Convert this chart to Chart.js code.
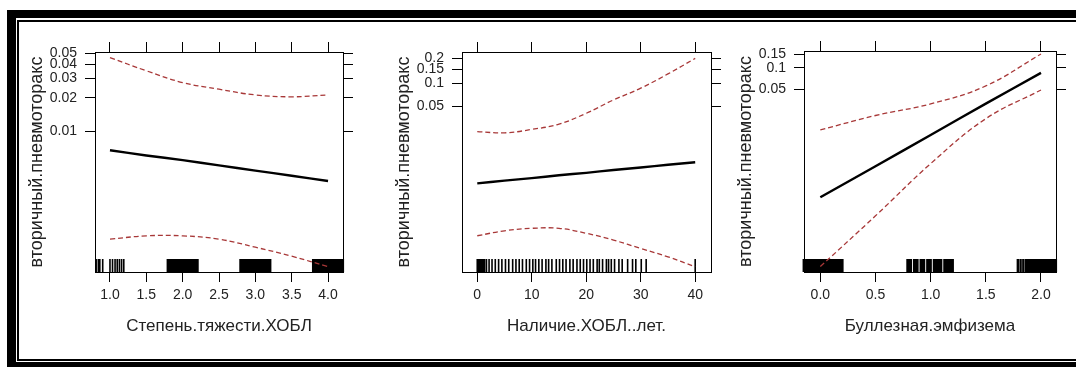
<!DOCTYPE html>
<html>
<head>
<meta charset="utf-8">
<script src="https://cdn.jsdelivr.net/npm/chart.js@4.4.1/dist/chart.umd.min.js"></script>
<style>
  body { margin: 0; width: 1076px; height: 367px; background: #fff; position: relative; overflow: hidden; }
  canvas { position: absolute; }
  .bar { position: absolute; background: #000; }
</style>
</head>
<body>
<div class="bar" style="left:7px;top:10px;width:1069px;height:8px"></div>
<div class="bar" style="left:7px;top:10px;width:9px;height:357px"></div>
<div class="bar" style="left:7px;top:362px;width:1069px;height:5px"></div>
<div class="bar" style="left:17px;top:20px;width:1059px;height:2px"></div>
<div class="bar" style="left:17px;top:20px;width:2px;height:341px"></div>
<div class="bar" style="left:17px;top:359px;width:1059px;height:2px"></div>
<canvas id="c1"></canvas>
<canvas id="c2"></canvas>
<canvas id="c3"></canvas>
<script>
// y values are on the logit (link) scale, y tick labels are probabilities
const yTitle = 'вторичный.пневмоторакс';

// Panel 1 - Степень.тяжести.ХОБЛ
const severityX = [1, 1.5, 2, 2.5, 3, 3.5, 4];
const severityFit = [-5.00, -5.11, -5.21, -5.32, -5.43, -5.54, -5.65];
const severityUpper = [-3.04, -3.32, -3.57, -3.71, -3.83, -3.87, -3.83];
const severityLower = [-6.88, -6.81, -6.81, -6.88, -7.05, -7.24, -7.46];
const severityRug = [0.81, 0.84, 0.86, 0.90, 1.00, 1.035, 1.07, 1.10, 1.13, 1.16, 1.19,
  1.79, 1.81, 1.83, 1.85, 1.87, 1.89, 1.91, 1.93, 1.95, 1.97, 1.99, 2.01, 2.03, 2.05, 2.07, 2.09, 2.11, 2.13, 2.15, 2.17, 2.19, 2.21,
  2.79, 2.81, 2.83, 2.85, 2.87, 2.89, 2.91, 2.93, 2.95, 2.97, 2.99, 3.01, 3.03, 3.05, 3.07, 3.09, 3.11, 3.13, 3.15, 3.17, 3.19, 3.21,
  3.79, 3.81, 3.83, 3.85, 3.87, 3.89, 3.91, 3.93, 3.95, 3.97, 3.99, 4.01, 4.03, 4.05, 4.07, 4.09, 4.11, 4.13, 4.15, 4.17, 4.19, 4.21];
const severityTicks = [1, 1.5, 2, 2.5, 3, 3.5, 4];
const severityTickLabels = ['1.0', '1.5', '2.0', '2.5', '3.0', '3.5', '4.0'];
const severityProbs = [0.05, 0.04, 0.03, 0.02, 0.01];

// Panel 2 - Наличие.ХОБЛ..лет.
const yearsX = [0, 5, 10, 15, 20, 25, 30, 35, 40];
const yearsFit = [-5.42, -5.33, -5.25, -5.16, -5.08, -4.99, -4.91, -4.82, -4.74];
const yearsUpper = [-3.75, -3.79, -3.68, -3.51, -3.16, -2.73, -2.35, -1.89, -1.39];
const yearsLower = [-7.11, -6.95, -6.87, -6.87, -7.03, -7.25, -7.52, -7.79, -8.11];
const yearsRug = [0, 0.18, 0.36, 0.54, 0.72, 0.9, 1.08, 1.33, 1.69, 2.17, 2.71, 3.31, 3.92, 4.52, 5.18, 5.78,
  6.5, 7.1, 7.7, 8.3, 9.0, 9.6, 10.2, 10.7, 11.3, 11.9, 12.6, 13.1, 13.7, 14.5, 15.1, 15.7, 16.3, 17.0,
  17.6, 18.3, 18.9, 19.5, 20.1, 20.7, 21.3, 22.0, 22.4, 23.0, 23.7, 24.1, 24.6, 25.2, 26.0, 26.6, 27.6,
  28.5, 29.1, 30.1, 31.0, 40];
const yearsTicks = [0, 10, 20, 30, 40];
const yearsTickLabels = ['0', '10', '20', '30', '40'];
const yearsProbs = [0.2, 0.15, 0.1, 0.05];

// Panel 3 - Буллезная.эмфизема
const bullaeX = [0, 0.5, 1, 1.5, 2];
const bullaeFit = [-6.66, -5.59, -4.51, -3.43, -2.37];
const bullaeUpper = [-4.34, -3.84, -3.44, -2.82, -1.72];
const bullaeLower = [-9.05, -7.30, -5.50, -3.95, -2.96];
const bullaeRug = [-0.15, -0.13, -0.12, -0.10, -0.08, -0.07, -0.05, -0.04, -0.02, -0.01, 0.01, 0.03,
  0.04, 0.06, 0.07, 0.09, 0.11, 0.12, 0.14, 0.15, 0.17, 0.19, 0.20,
  0.79, 0.805, 0.82, 0.85, 0.865, 0.88, 0.91, 0.925, 0.94, 0.97, 0.985, 1.0, 1.03, 1.045,
  1.065, 1.08, 1.095, 1.125, 1.14, 1.155, 1.17, 1.185, 1.2,
  1.79, 1.815, 1.84, 1.865, 1.88, 1.895, 1.91, 1.925, 1.94, 1.955, 1.97, 1.985, 2.0, 2.015,
  2.03, 2.045, 2.06, 2.075, 2.09, 2.105, 2.12, 2.135];
const bullaeTicks = [0, 0.5, 1, 1.5, 2];
const bullaeTickLabels = ['0.0', '0.5', '1.0', '1.5', '2.0'];
const bullaeProbs = [0.15, 0.1, 0.05];

const AXIS_L = 80, AXIS_R = 20, AXIS_T = 20, AXIS_B = 75;
const narrow = "'Liberation Sans Narrow', 'Arial Narrow', 'Liberation Sans', sans-serif";
const dashRed = '#a83838';

function logit(p) { return Math.log(p / (1 - p)); }

function rug(values, width) {
    return {
        id: 'rug',
        beforeDatasetsDraw(chart) {
            const { ctx, chartArea, scales } = chart;
            ctx.save();
            ctx.strokeStyle = '#000';
            ctx.lineWidth = width;
            ctx.beginPath();
            values.forEach(v => {
                const px = scales.x.getPixelForValue(v);
                ctx.moveTo(px, chartArea.bottom);
                ctx.lineTo(px, chartArea.bottom - 13);
            });
            ctx.stroke();
            ctx.restore();
        }
    };
}

function makePanel(id, box, p) {
    const canvas = document.getElementById(id);
    canvas.width = box.r - box.l + AXIS_L + AXIS_R;
    canvas.height = box.b - box.t + AXIS_T + AXIS_B;
    canvas.style.left = (box.l - AXIS_L) + 'px';
    canvas.style.top = (box.t - AXIS_T) + 'px';

    const yTicks = p.probs.map(logit);
    const setTicks = vals => scale => { scale.ticks = vals.map(v => ({ value: v })); };
    const grid = { drawOnChartArea: false, drawTicks: true, tickLength: 10, color: '#000', lineWidth: 1 };
    const border = { display: true, color: '#000', width: 1 };
    const pts = ys => p.x.map((x, i) => ({ x: x, y: ys[i] }));

    return new Chart(canvas.getContext('2d'), {
        type: 'line',
        data: {
            datasets: [
                { data: pts(p.fit), borderColor: '#000', borderWidth: 2.4, pointRadius: 0, tension: 0.3 },
                { data: pts(p.upper), borderColor: dashRed, borderWidth: 1.3, borderDash: [5, 3], pointRadius: 0, tension: 0.4 },
                { data: pts(p.lower), borderColor: dashRed, borderWidth: 1.3, borderDash: [5, 3], pointRadius: 0, tension: 0.4 }
            ]
        },
        options: {
            responsive: false,
            animation: false,
            events: [],
            layout: { padding: 0 },
            plugins: { legend: { display: false }, tooltip: { enabled: false } },
            scales: {
                x: {
                    type: 'linear', position: 'bottom', min: p.xMin, max: p.xMax,
                    afterBuildTicks: setTicks(p.ticks),
                    afterFit: s => { s.height = AXIS_B; },
                    grid: grid, border: border,
                    ticks: { autoSkip: false, maxRotation: 0, padding: 5, color: '#222',
                        font: { family: narrow, size: 14 }, callback: (v, i) => p.tickLabels[i] },
                    title: { display: true, text: p.title, color: '#222',
                        font: { family: narrow, size: 17 }, padding: { top: 0, bottom: 10 } }
                },
                x2: {
                    type: 'linear', position: 'top', min: p.xMin, max: p.xMax,
                    afterBuildTicks: setTicks(p.ticks),
                    afterFit: s => { s.height = AXIS_T; },
                    grid: grid, border: border, ticks: { display: false }
                },
                y: {
                    type: 'linear', position: 'left', min: p.yMin, max: p.yMax,
                    afterBuildTicks: setTicks(yTicks),
                    afterFit: s => { s.width = AXIS_L; },
                    grid: grid, border: border,
                    ticks: { autoSkip: false, padding: 8, color: '#222',
                        font: { family: narrow, size: 14 }, callback: (v, i) => String(p.probs[i]) },
                    title: { display: true, text: yTitle, color: '#222',
                        font: { family: "'Liberation Sans', sans-serif", size: 18 }, padding: { top: 11, bottom: 0 } }
                },
                y2: {
                    type: 'linear', position: 'right', min: p.yMin, max: p.yMax,
                    afterBuildTicks: setTicks(yTicks),
                    afterFit: s => { s.width = AXIS_R; },
                    grid: grid, border: border, ticks: { display: false }
                }
            }
        },
        plugins: [rug(p.rug, p.rugWidth)]
    });
}

makePanel('c1', { l: 95, r: 343, t: 52, b: 272 }, {
    x: severityX, fit: severityFit, upper: severityUpper, lower: severityLower,
    rug: severityRug, rugWidth: 1.6, ticks: severityTicks, tickLabels: severityTickLabels,
    probs: severityProbs, xMin: 0.794, xMax: 4.206, yMin: -7.574, yMax: -2.923,
    title: 'Степень.тяжести.ХОБЛ'
});

makePanel('c2', { l: 462, r: 711, t: 52, b: 272 }, {
    x: yearsX, fit: yearsFit, upper: yearsUpper, lower: yearsLower,
    rug: yearsRug, rugWidth: 1.6, ticks: yearsTicks, tickLabels: yearsTickLabels,
    probs: yearsProbs, xMin: -2.8, xMax: 42.9, yMin: -8.279, yMax: -1.183,
    title: 'Наличие.ХОБЛ..лет.'
});

makePanel('c3', { l: 804, r: 1056, t: 51, b: 272 }, {
    x: bullaeX, fit: bullaeFit, upper: bullaeUpper, lower: bullaeLower,
    rug: bullaeRug, rugWidth: 2.4, ticks: bullaeTicks, tickLabels: bullaeTickLabels,
    probs: bullaeProbs, xMin: -0.148, xMax: 2.136, yMin: -9.237, yMax: -1.616,
    title: 'Буллезная.эмфизема'
});
</script>
</body>
</html>
